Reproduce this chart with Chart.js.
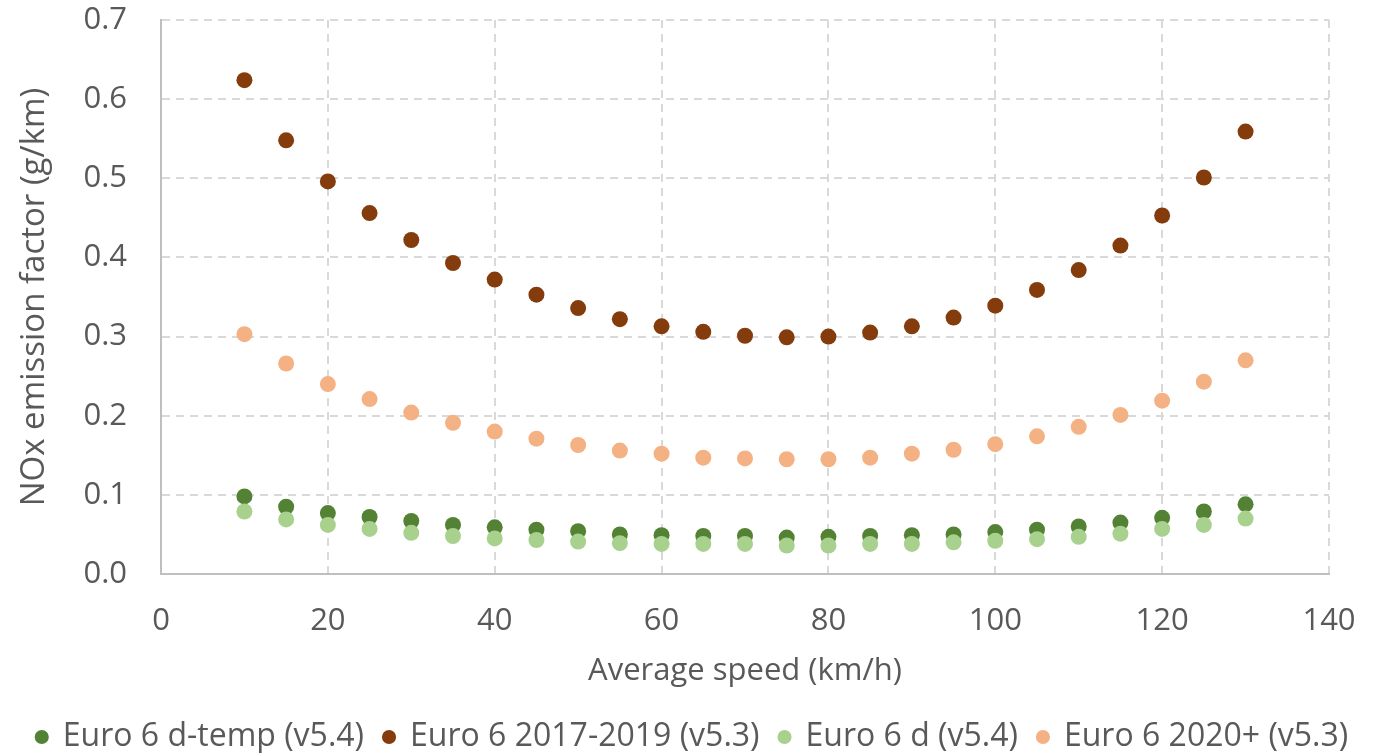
<!DOCTYPE html>
<html>
<head>
<meta charset="utf-8">
<script src="https://cdn.jsdelivr.net/npm/chart.js@4/dist/chart.umd.min.js"></script>
<style>
    html, body { margin: 0; padding: 0; background: #fff; }
    #wrap { width: 1385px; height: 753px; position: relative; }
</style>
</head>
<body>
<div id="wrap"><canvas id="noxChart"></canvas></div>
<script>
// average speed categories (km/h)
const speeds = [10, 15, 20, 25, 30, 35, 40, 45, 50, 55, 60, 65, 70, 75, 80, 85, 90, 95, 100, 105, 110, 115, 120, 125, 130];

// NOx emission factor (g/km) per series
const euro6dTemp = [0.098, 0.085, 0.077, 0.072, 0.067, 0.062, 0.059, 0.056, 0.054, 0.050, 0.049, 0.048, 0.048, 0.046, 0.047, 0.048, 0.049, 0.050, 0.053, 0.056, 0.060, 0.065, 0.071, 0.079, 0.088];
const euro6_2017 = [0.624, 0.548, 0.496, 0.456, 0.422, 0.393, 0.372, 0.353, 0.336, 0.322, 0.313, 0.306, 0.301, 0.299, 0.300, 0.305, 0.313, 0.324, 0.339, 0.359, 0.384, 0.415, 0.453, 0.501, 0.559];
const euro6d = [0.079, 0.069, 0.062, 0.057, 0.052, 0.048, 0.045, 0.043, 0.041, 0.039, 0.038, 0.038, 0.038, 0.036, 0.036, 0.038, 0.038, 0.040, 0.042, 0.044, 0.047, 0.051, 0.057, 0.062, 0.070];
const euro6_2020 = [0.303, 0.266, 0.240, 0.221, 0.204, 0.191, 0.180, 0.171, 0.163, 0.156, 0.152, 0.147, 0.146, 0.145, 0.145, 0.147, 0.152, 0.157, 0.164, 0.174, 0.186, 0.201, 0.219, 0.243, 0.270];

const seriesNames = ['Euro 6 d-temp (v5.4)', 'Euro 6 2017-2019 (v5.3)', 'Euro 6 d (v5.4)', 'Euro 6 2020+ (v5.3)'];
const seriesColors = ['#548235', '#843C0C', '#A9D18E', '#F4B183'];
const seriesValues = [euro6dTemp, euro6_2017, euro6d, euro6_2020];
// lighter markers sit on top of the darker ones
const drawOrder = [2, 2, 1, 1];

const textColor = '#595959';
const gridColor = '#D9D9D9';
const axisColor = '#BFBFBF';
Chart.defaults.font.family = "'Open Sans', sans-serif";
Chart.defaults.color = textColor;

function toPoints(values) {
    return speeds.map((s, i) => ({ x: s, y: values[i] }));
}

const datasets = seriesNames.map((name, i) => ({
    label: name,
    data: toPoints(seriesValues[i]),
    backgroundColor: seriesColors[i],
    borderColor: seriesColors[i],
    borderWidth: 0,
    pointRadius: 8,
    pointHoverRadius: 8,
    order: drawOrder[i]
}));

const ctx = document.getElementById('noxChart').getContext('2d');
new Chart(ctx, {
    type: 'scatter',
    data: { datasets: datasets },
    options: {
        responsive: true,
        maintainAspectRatio: false,
        animation: false,
        layout: { padding: { top: 20, right: 0, left: 0, bottom: -10 } },
        plugins: {
            tooltip: { enabled: false },
            legend: {
                position: 'bottom',
                labels: {
                    usePointStyle: true,
                    boxWidth: 10,
                    boxHeight: 10,
                    padding: 20,
                    color: textColor,
                    font: { size: 32 },
                    sort: (a, b) => a.datasetIndex - b.datasetIndex
                }
            }
        },
        scales: {
            x: {
                type: 'linear',
                min: 0,
                max: 140,
                afterFit: scale => {
                    scale.height = 127;
                    // room to the right of the plot, as in the original
                    scale.paddingRight = 56;
                },
                ticks: { stepSize: 20, padding: 29, color: textColor, font: { size: 31 } },
                grid: { color: gridColor, lineWidth: 2, drawTicks: false },
                border: { display: true, color: axisColor, width: 2, dash: [8, 6] },
                title: {
                    display: true,
                    text: 'Average speed (km/h)',
                    color: textColor,
                    font: { size: 31 },
                    padding: { top: 0, bottom: 11 }
                }
            },
            y: {
                min: 0,
                max: 0.7,
                afterFit: scale => {
                    scale.width = 161;
                    // tick padding should not push the plot area down
                    scale.paddingTop = 0;
                    scale.paddingBottom = 0;
                },
                ticks: {
                    stepSize: 0.1,
                    padding: 34,
                    color: textColor,
                    font: { size: 31 },
                    callback: v => v.toFixed(1)
                },
                grid: { color: gridColor, lineWidth: 2, drawTicks: false },
                border: { display: true, color: axisColor, width: 2, dash: [8, 6] },
                title: {
                    display: true,
                    text: 'NOx emission factor (g/km)',
                    color: textColor,
                    font: { size: 33 },
                    padding: { top: 15, bottom: 0 }
                }
            }
        }
    }
});
</script>
</body>
</html>
